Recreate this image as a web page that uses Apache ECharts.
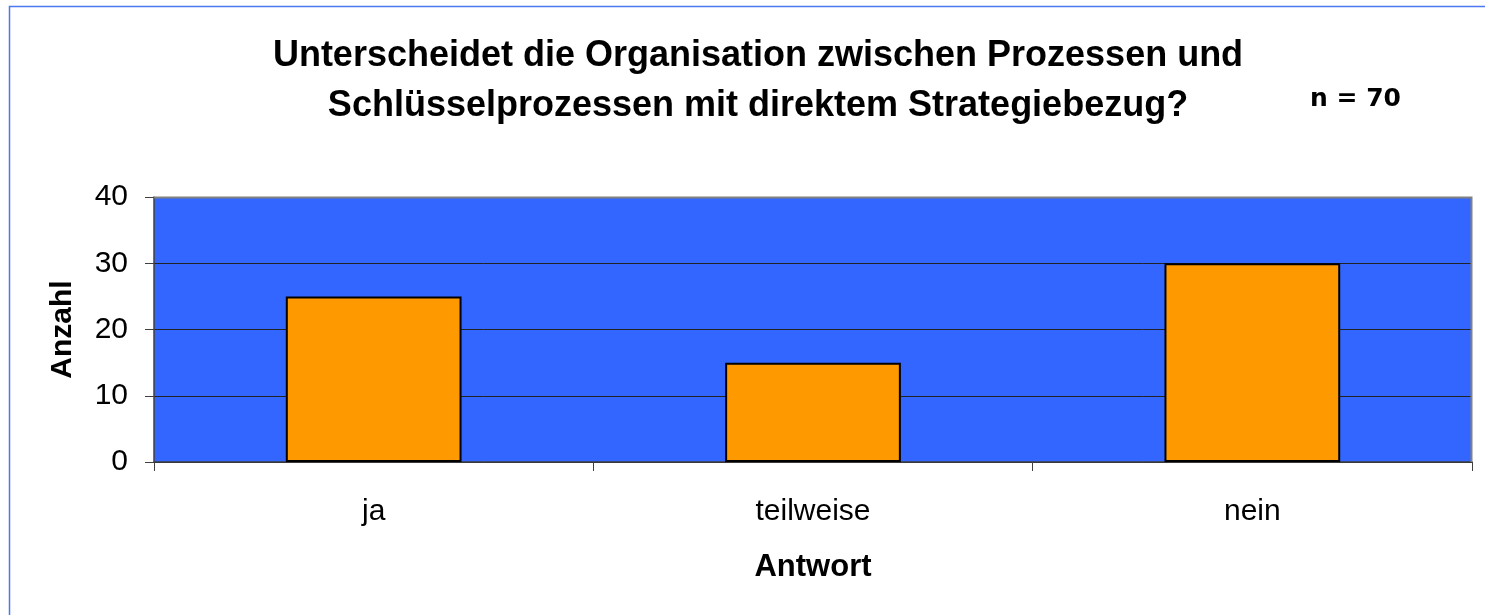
<!DOCTYPE html>
<html>
<head>
<meta charset="utf-8">
<script src="https://cdn.jsdelivr.net/npm/echarts@6/dist/echarts.min.js"></script>
<style>
  html, body { margin: 0; padding: 0; background: #fff; }
  #main { width: 1485px; height: 615px; }
</style>
</head>
<body>
<div id="main"></div>
<script>
// Daten
const categories = ['ja', 'teilweise', 'nein'];
const counts = [25, 15, 30];
const yTicks = [0, 10, 20, 30, 40];
const titleLines = ['Unterscheidet die Organisation zwischen Prozessen und', 'Schlüsselprozessen mit direktem Strategiebezug?'];
const nLabel = 'n = 70';

const chart = echarts.init(document.getElementById('main'));

const option = {
  backgroundColor: '#fff',
  animation: false,
  title: {
    text: titleLines.join('\n'),
    left: 753,
    top: 26,
    textAlign: 'center',
    textStyle: {
      fontFamily: 'Liberation Sans, Arial, sans-serif',
      fontSize: 36,
      fontWeight: 'bold',
      color: '#000',
      lineHeight: 50
    }
  },
  graphic: [
    // rahmen
    {
      type: 'rect',
      shape: { x: 9.5, y: 6.5, width: 1500, height: 640 },
      style: { fill: null, stroke: '#4a78f0', lineWidth: 1.5 },
      silent: true
    },
    {
      type: 'text',
      left: 1310,
      top: 87,
      style: {
        text: nLabel,
        font: 'bold 25px "DejaVu Sans", Verdana, sans-serif',
        fill: '#000'
      }
    },
    // oberer/rechter Rand der Zeichenfläche
    {
      type: 'polyline',
      shape: { points: [[154, 197.5], [1471.5, 197.5], [1471.5, 462]] },
      style: { stroke: '#808080', lineWidth: 2, fill: null },
      z: 10,
      silent: true
    }
  ],
  grid: {
    left: 154,
    right: 13,
    top: 197,
    bottom: 153,
    show: true,
    backgroundColor: '#3366ff',
    borderWidth: 0
  },
  xAxis: {
    type: 'category',
    data: categories,
    name: 'Antwort',
    nameLocation: 'middle',
    nameGap: 90,
    nameTextStyle: {
      fontFamily: 'Liberation Sans, Arial, sans-serif',
      fontSize: 31,
      fontWeight: 'bold',
      color: '#000'
    },
    axisLine: { lineStyle: { color: '#404040', width: 1.5 } },
    axisTick: { show: true, inside: false, length: 9, alignWithLabel: false, lineStyle: { color: '#404040' } },
    axisLabel: {
      fontFamily: 'Liberation Sans, Arial, sans-serif',
      fontSize: 30,
      color: '#000',
      margin: 35
    },
    splitLine: { show: false }
  },
  yAxis: {
    type: 'value',
    min: yTicks[0],
    max: yTicks[yTicks.length - 1],
    interval: 10,
    name: 'Anzahl',
    nameLocation: 'middle',
    nameGap: 76,
    nameTextStyle: {
      fontFamily: 'Liberation Sans, Arial, sans-serif',
      fontSize: 30,
      fontWeight: 'bold',
      color: '#000'
    },
    axisLine: { show: true, lineStyle: { color: '#404040', width: 1.5 } },
    axisTick: { show: true, inside: false, length: 9, lineStyle: { color: '#404040' } },
    axisLabel: {
      fontFamily: 'Liberation Sans, Arial, sans-serif',
      fontSize: 30,
      color: '#000',
      margin: 26
    },
    splitLine: { show: true, lineStyle: { color: '#222', width: 1 } }
  },
  series: [
    {
      type: 'bar',
      data: counts,
      barWidth: '40%',
      itemStyle: {
        color: '#ff9900',
        borderColor: '#000',
        borderWidth: 2
      }
    }
  ]
};

chart.setOption(option);
</script>
</body>
</html>
